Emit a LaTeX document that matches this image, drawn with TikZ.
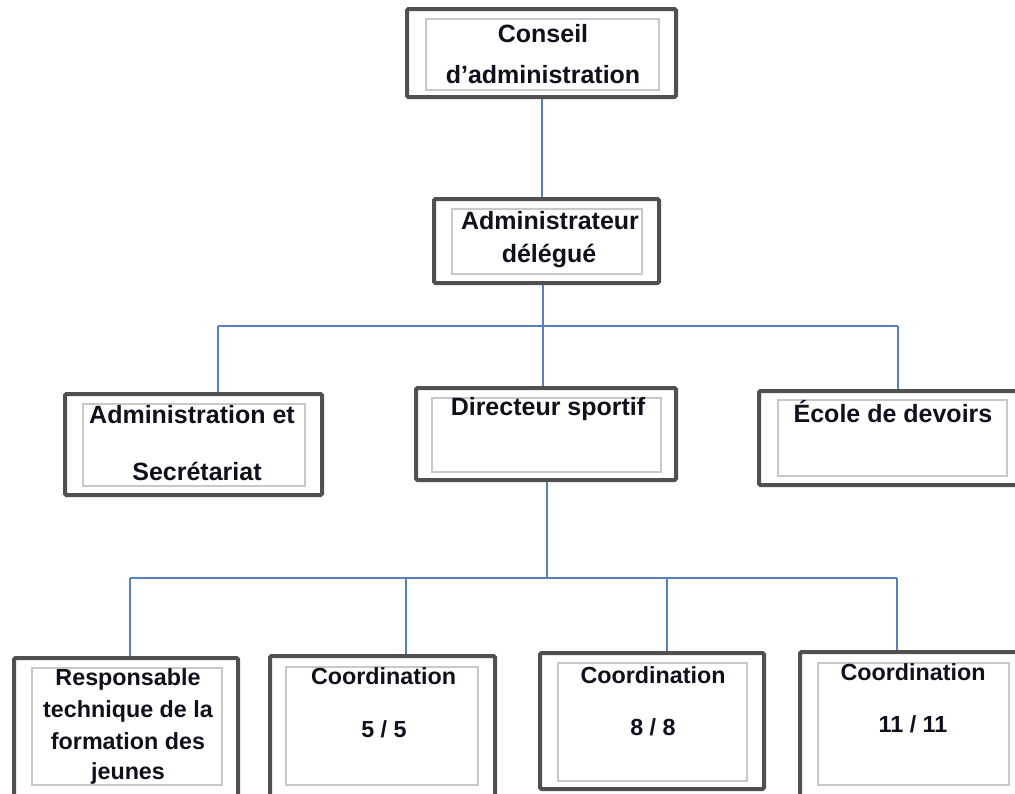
\documentclass[tikz,border=0pt]{standalone}
\usepackage{fontspec}
\setmainfont{Liberation Sans}
\begin{document}
\begin{tikzpicture}[x=1pt,y=-1pt,
  outerbox/.style={draw=boxgray,line width=4pt,rounded corners=1.5pt,inner sep=0pt,fill=white},
  innerbox/.style={draw=innergray,line width=1.4pt,inner sep=0pt},
  lbl/.style={anchor=base,inner sep=0pt,text=txtcol,font=\fontsize{25}{30}\selectfont\bfseries},
  lbls/.style={anchor=base,inner sep=0pt,text=txtcol,font=\fontsize{23.3}{28}\selectfont\bfseries},
  conn/.style={draw=linkblue,line width=1.3pt}]
\definecolor{boxgray}{HTML}{505050}
\definecolor{innergray}{HTML}{C8C8C8}
\definecolor{linkblue}{HTML}{5680BE}
\definecolor{txtcol}{HTML}{10101C}
\useasboundingbox (0,0) rectangle (1015,793);
\clip (0,0) rectangle (1015,793);
\fill[white] (0,0) rectangle (1015,793);

% connector coordinates
\coordinate (topx) at (542,150);
\coordinate (bus1) at (543,326);
\coordinate (d1a) at (218,326);
\coordinate (d1c) at (898,326);
\coordinate (bus2) at (547,578);
\coordinate (d2a) at (130,578);
\coordinate (d2b) at (406,578);
\coordinate (d2c) at (667,578);
\coordinate (d2d) at (897,578);

% boxes
\node[outerbox,minimum width=269pt,minimum height=88pt] (conseil) at (541.5,53) {};
\node[innerbox,minimum width=233pt,minimum height=71pt] (conseilin) at (542.5,54.5) {};
\node[outerbox,minimum width=225pt,minimum height=84pt] (adel) at (546.5,241) {};
\node[innerbox,minimum width=190pt,minimum height=65pt] (adelin) at (547,241.5) {};
\node[outerbox,minimum width=257pt,minimum height=101pt] (asec) at (193.5,444.5) {};
\node[innerbox,minimum width=222pt,minimum height=82pt] (asecin) at (194,445) {};
\node[outerbox,minimum width=260pt,minimum height=92pt] (dir) at (546,434) {};
\node[innerbox,minimum width=229pt,minimum height=74pt] (dirin) at (546.5,435) {};
\node[outerbox,minimum width=269pt,minimum height=94pt] (ecole) at (893.5,438) {};
\node[innerbox,minimum width=229pt,minimum height=76pt] (ecolein) at (892.5,438) {};
\node[outerbox,minimum width=224pt,minimum height=150pt] (resp) at (126,733) {};
\node[innerbox,minimum width=190pt,minimum height=117pt] (respin) at (127,726.5) {};
\node[outerbox,minimum width=225pt,minimum height=152pt] (coa) at (382.5,732) {};
\node[innerbox,minimum width=192pt,minimum height=118pt] (coain) at (382,726) {};
\node[outerbox,minimum width=224pt,minimum height=136pt] (cob) at (652,721) {};
\node[innerbox,minimum width=189pt,minimum height=118pt] (cobin) at (652.5,722) {};
\node[outerbox,minimum width=228pt,minimum height=156pt] (coc) at (914,730) {};
\node[innerbox,minimum width=191pt,minimum height=122pt] (cocin) at (913.5,724) {};

% connectors
\draw[conn] (topx |- conseil.south) -- (topx |- adel.north);
\draw[conn] (bus1 |- adel.south) -- (bus1);
\draw[conn] (d1a) -- (d1c);
\draw[conn] (d1a) -- (d1a |- asec.north);
\draw[conn] (bus1) -- (bus1 |- dir.north);
\draw[conn] (d1c) -- (d1c |- ecole.north);
\draw[conn] (bus2 |- dir.south) -- (bus2);
\draw[conn] (d2a) -- (d2d);
\draw[conn] (d2a) -- (d2a |- resp.north);
\draw[conn] (d2b) -- (d2b |- coa.north);
\draw[conn] (d2c) -- (d2c |- cob.north);
\draw[conn] (d2d) -- (d2d |- coc.north);

% texts
\node[lbl] (t1a) at (543,42) {Conseil};
\node[lbl] (t1b) at (543,83) {d’administration};
\node[lbl] (t2a) at (550,229) {Administrateur};
\node[lbl] (t2b) at (549,262) {délégué};
\node[lbl] (t3a) at (192,423) {Administration et};
\node[lbl] (t3b) at (197,480) {Secrétariat};
\node[lbl] (t4a) at (548,415) {Directeur sportif};
\node[lbl] (t5a) at (893,422) {École de devoirs};
\node[lbls] (t6a) at (128,685) {Responsable};
\node[lbls] (t6b) at (128,717) {technique de la};
\node[lbls] (t6c) at (128,749) {formation des};
\node[lbls] (t6d) at (128,779) {jeunes};
\node[lbls] (t7a) at (383.5,684) {Coordination};
\node[lbls] (t7b) at (384,737) {5 / 5};
\node[lbls] (t8a) at (653,683) {Coordination};
\node[lbls] (t8b) at (653,735) {8 / 8};
\node[lbls] (t9a) at (913,680) {Coordination};
\node[lbls] (t9b) at (913,732) {11 / 11};
\end{tikzpicture}
\end{document}
